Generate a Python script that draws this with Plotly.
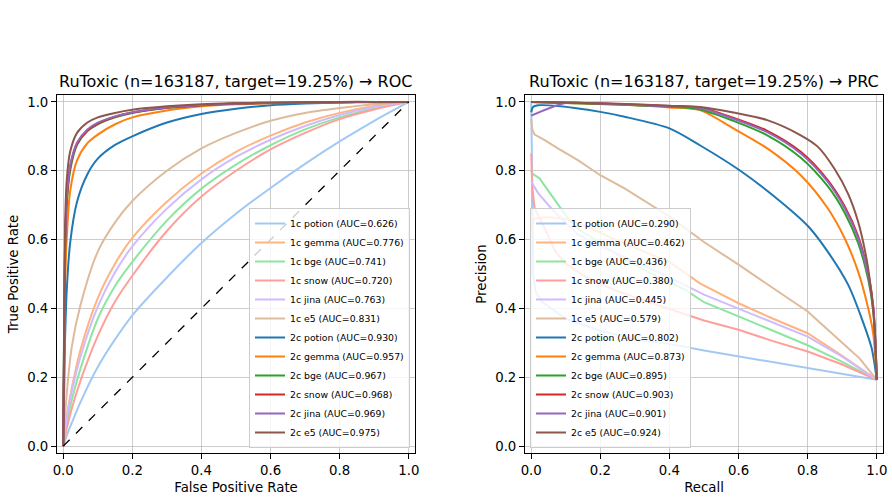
import plotly.graph_objects as go

# ---------------- data ----------------
models = ["potion", "gemma", "bge", "snow", "jina", "e5"]
roc_auc_1c = [0.626, 0.776, 0.741, 0.720, 0.763, 0.831]
roc_auc_2c = [0.930, 0.957, 0.967, 0.968, 0.969, 0.975]
prc_auc_1c = [0.290, 0.462, 0.436, 0.380, 0.445, 0.579]
prc_auc_2c = [0.802, 0.873, 0.895, 0.903, 0.901, 0.924]

# ROC curves, 1-class models
roc_fpr_1c = [0, 0.01, 0.025, 0.05, 0.1, 0.15, 0.2, 0.3, 0.4, 0.5, 0.6, 0.7, 0.8, 0.9, 1.0]
tpr_1c_potion = [0, 0.03, 0.068, 0.128, 0.23, 0.31, 0.38, 0.49, 0.59, 0.675, 0.75, 0.82, 0.885, 0.945, 1.0]
tpr_1c_gemma = [0, 0.085, 0.17, 0.28, 0.43, 0.53, 0.605, 0.71, 0.792, 0.855, 0.902, 0.94, 0.968, 0.988, 1.0]
tpr_1c_bge = [0, 0.065, 0.135, 0.225, 0.37, 0.465, 0.535, 0.655, 0.748, 0.818, 0.874, 0.92, 0.955, 0.981, 1.0]
tpr_1c_snow = [0, 0.05, 0.11, 0.19, 0.32, 0.42, 0.495, 0.625, 0.725, 0.80, 0.862, 0.91, 0.95, 0.978, 1.0]
tpr_1c_jina = [0, 0.08, 0.16, 0.26, 0.405, 0.505, 0.58, 0.69, 0.775, 0.84, 0.89, 0.93, 0.962, 0.985, 1.0]
tpr_1c_e5 = [0, 0.15, 0.29, 0.41, 0.565, 0.65, 0.712, 0.80, 0.865, 0.91, 0.945, 0.968, 0.982, 0.993, 1.0]

# ROC curves, 2-class models
roc_fpr_2c = [0, 0.005, 0.01, 0.02, 0.04, 0.07, 0.1, 0.15, 0.2, 0.3, 0.4, 0.5, 0.6, 0.7, 0.8, 0.9, 1.0]
tpr_2c_potion = [0, 0.30, 0.45, 0.59, 0.71, 0.79, 0.835, 0.875, 0.90, 0.94, 0.965, 0.98, 0.99, 0.995, 0.998, 0.999, 1.0]
tpr_2c_gemma = [0, 0.45, 0.60, 0.74, 0.83, 0.88, 0.905, 0.935, 0.955, 0.975, 0.987, 0.993, 0.996, 0.998, 0.999, 1.0, 1.0]
tpr_2c_bge = [0, 0.55, 0.70, 0.80, 0.875, 0.915, 0.935, 0.955, 0.968, 0.982, 0.99, 0.995, 0.997, 0.998, 0.999, 1.0, 1.0]
tpr_2c_snow = [0, 0.56, 0.71, 0.81, 0.878, 0.917, 0.937, 0.957, 0.969, 0.983, 0.99, 0.995, 0.997, 0.998, 0.999, 1.0, 1.0]
tpr_2c_jina = [0, 0.57, 0.72, 0.815, 0.882, 0.92, 0.94, 0.958, 0.97, 0.984, 0.991, 0.995, 0.997, 0.998, 0.999, 1.0, 1.0]
tpr_2c_e5 = [0, 0.62, 0.77, 0.855, 0.91, 0.94, 0.955, 0.968, 0.977, 0.987, 0.993, 0.996, 0.998, 0.999, 1.0, 1.0, 1.0]
chance_line = [0, 1]

# PR curves
rec_1c_potion = [0, 0.003, 0.006, 0.012, 0.03, 0.1, 0.2, 0.3, 0.4, 0.5, 0.6, 0.7, 0.8, 0.9, 1.0]
prec_1c_potion = [1.0, 0.65, 0.50, 0.45, 0.42, 0.37, 0.335, 0.31, 0.297, 0.278, 0.261, 0.245, 0.227, 0.21, 0.1925]
rec_1c_gemma = [0, 0.003, 0.01, 0.05, 0.1, 0.16, 0.256, 0.4, 0.488, 0.6, 0.7, 0.8, 0.9, 1.0]
prec_1c_gemma = [0.62, 0.64, 0.662, 0.665, 0.66, 0.638, 0.594, 0.535, 0.473, 0.415, 0.37, 0.328, 0.262, 0.1925]
rec_1c_bge = [0, 0.005, 0.024, 0.058, 0.106, 0.14, 0.2, 0.256, 0.35, 0.444, 0.5, 0.6, 0.7, 0.8, 0.9, 1.0]
prec_1c_bge = [0.80, 0.79, 0.778, 0.73, 0.662, 0.628, 0.59, 0.551, 0.50, 0.455, 0.418, 0.377, 0.335, 0.293, 0.245, 0.1925]
rec_1c_snow = [0, 0.003, 0.01, 0.04, 0.07, 0.1, 0.16, 0.25, 0.35, 0.5, 0.6, 0.7, 0.8, 0.9, 1.0]
prec_1c_snow = [0.85, 0.75, 0.69, 0.63, 0.565, 0.53, 0.49, 0.45, 0.415, 0.365, 0.338, 0.305, 0.275, 0.237, 0.1925]
rec_1c_jina = [0, 0.005, 0.02, 0.062, 0.135, 0.2, 0.27, 0.4, 0.5, 0.6, 0.7, 0.8, 0.9, 1.0]
prec_1c_jina = [0.77, 0.76, 0.735, 0.686, 0.615, 0.58, 0.55, 0.49, 0.44, 0.40, 0.36, 0.318, 0.26, 0.1925]
rec_1c_e5 = [0, 0.003, 0.01, 0.039, 0.077, 0.135, 0.2, 0.27, 0.4, 0.5, 0.6, 0.7, 0.8, 0.9, 0.95, 1.0]
prec_1c_e5 = [0.95, 0.92, 0.905, 0.889, 0.865, 0.831, 0.787, 0.749, 0.667, 0.593, 0.527, 0.46, 0.391, 0.30, 0.255, 0.1925]
rec_2c_potion = [0, 0.005, 0.02, 0.077, 0.2, 0.27, 0.4, 0.488, 0.602, 0.722, 0.802, 0.858, 0.917, 0.956, 0.985, 1.0]
prec_2c_potion = [0.97, 0.985, 0.99, 0.988, 0.971, 0.957, 0.923, 0.874, 0.802, 0.71, 0.638, 0.565, 0.469, 0.372, 0.285, 0.1925]
rec_2c_gemma = [0, 0.1, 0.2, 0.3, 0.4, 0.488, 0.585, 0.683, 0.78, 0.858, 0.907, 0.946, 0.975, 0.99, 1.0]
prec_2c_gemma = [1.0, 0.997, 0.994, 0.99, 0.984, 0.976, 0.923, 0.865, 0.787, 0.691, 0.604, 0.507, 0.401, 0.324, 0.1925]
rec_2c_bge = [0, 0.1, 0.2, 0.3, 0.4, 0.488, 0.585, 0.683, 0.78, 0.858, 0.907, 0.946, 0.975, 0.99, 1.0]
prec_2c_bge = [1.0, 0.997, 0.994, 0.99, 0.986, 0.978, 0.945, 0.903, 0.838, 0.755, 0.678, 0.59, 0.485, 0.39, 0.1925]
rec_2c_snow = [0, 0.1, 0.2, 0.3, 0.4, 0.488, 0.585, 0.683, 0.78, 0.858, 0.907, 0.946, 0.975, 0.99, 1.0]
prec_2c_snow = [1.0, 0.998, 0.995, 0.992, 0.988, 0.984, 0.954, 0.916, 0.855, 0.773, 0.697, 0.61, 0.503, 0.405, 0.1925]
rec_2c_jina = [0, 0.1, 0.2, 0.3, 0.4, 0.488, 0.585, 0.683, 0.78, 0.858, 0.907, 0.946, 0.975, 0.99, 1.0]
prec_2c_jina = [0.96, 0.997, 0.995, 0.991, 0.987, 0.982, 0.951, 0.912, 0.85, 0.768, 0.691, 0.604, 0.498, 0.401, 0.1925]
rec_2c_e5 = [0, 0.1, 0.2, 0.3, 0.4, 0.488, 0.585, 0.683, 0.78, 0.829, 0.878, 0.917, 0.946, 0.97, 0.985, 0.995, 1.0]
prec_2c_e5 = [1.0, 0.998, 0.996, 0.993, 0.989, 0.985, 0.969, 0.947, 0.903, 0.870, 0.805, 0.733, 0.652, 0.546, 0.44, 0.324, 0.1925]

colors_1c = ["#a1c9f4", "#ffb482", "#8de5a1", "#ff9f9b", "#d0bbff", "#debb9b"]
colors_2c = ["#1f77b4", "#ff7f0e", "#2ca02c", "#d62728", "#9467bd", "#8c564b"]

roc_1c = [tpr_1c_potion, tpr_1c_gemma, tpr_1c_bge, tpr_1c_snow, tpr_1c_jina, tpr_1c_e5]
roc_2c = [tpr_2c_potion, tpr_2c_gemma, tpr_2c_bge, tpr_2c_snow, tpr_2c_jina, tpr_2c_e5]
pr_1c = [(rec_1c_potion, prec_1c_potion), (rec_1c_gemma, prec_1c_gemma), (rec_1c_bge, prec_1c_bge),
         (rec_1c_snow, prec_1c_snow), (rec_1c_jina, prec_1c_jina), (rec_1c_e5, prec_1c_e5)]
pr_2c = [(rec_2c_potion, prec_2c_potion), (rec_2c_gemma, prec_2c_gemma), (rec_2c_bge, prec_2c_bge),
         (rec_2c_snow, prec_2c_snow), (rec_2c_jina, prec_2c_jina), (rec_2c_e5, prec_2c_e5)]

title_roc = "RuToxic (n=163187, target=19.25%) → ROC"
title_prc = "RuToxic (n=163187, target=19.25%) → PRC"

# ---------------- figure ----------------
W, H = 892, 498
FONT = "DejaVu Sans"
fig = go.Figure()

def add_line(x, y, name, color, xa, ya, legend, shape="spline"):
    fig.add_trace(go.Scatter(
        x=x, y=y, mode="lines", name=name, xaxis=xa, yaxis=ya, legend=legend,
        line=dict(color=color, width=2, shape=shape, smoothing=0.8),
        hoverinfo="skip"))

for m, c, t, a in zip(models, colors_1c, roc_1c, roc_auc_1c):
    add_line(roc_fpr_1c, t, f"1c {m} (AUC={a:.3f})", c, "x", "y", "legend", shape="spline")
for m, c, t, a in zip(models, colors_2c, roc_2c, roc_auc_2c):
    add_line(roc_fpr_2c, t, f"2c {m} (AUC={a:.3f})", c, "x", "y", "legend", shape="spline")
fig.add_trace(go.Scatter(x=chance_line, y=chance_line, mode="lines", xaxis="x", yaxis="y",
                         line=dict(color="black", width=1.3, dash="dash"),
                         showlegend=False, hoverinfo="skip"))

for m, c, (r, p), a in zip(models, colors_1c, pr_1c, prc_auc_1c):
    add_line(r, p, f"1c {m} (AUC={a:.3f})", c, "x2", "y2", "legend2", shape="linear")
for m, c, (r, p), a in zip(models, colors_2c, pr_2c, prc_auc_2c):
    add_line(r, p, f"2c {m} (AUC={a:.3f})", c, "x2", "y2", "legend2", shape="spline")

dom_y = [45 / H, 403 / H]
dom_x1 = [57 / W, 415 / W]
dom_x2 = [525 / W, 883 / W]

def axis_style(title, domain, anchor, is_x):
    return dict(
        domain=domain, anchor=anchor,
        range=[-0.018, 1.018] if is_x else [-0.02, 1.02],
        tickmode="array", tickvals=[0, 0.2, 0.4, 0.6, 0.8, 1.0],
        ticktext=["0.0", "0.2", "0.4", "0.6", "0.8", "1.0"],
        ticks="outside", ticklen=5, tickwidth=1, tickcolor="black",
        showline=True, linecolor="black", linewidth=1, mirror=True,
        showgrid=True, gridcolor="rgba(176,176,176,0.65)", gridwidth=1,
        zeroline=False, tickfont=dict(size=13.3, color="black", family=FONT),
        title=dict(text=title, font=dict(size=13.3, color="black", family=FONT),
                   standoff=5),
        automargin=False,
    )

legend_common = dict(
    font=dict(size=9.3, color="black", family=FONT),
    bgcolor="rgba(255,255,255,0.8)", bordercolor="#cccccc", borderwidth=1,
    yanchor="bottom", y=50 / H, traceorder="normal", tracegroupgap=0,
)

fig.update_layout(
    width=W, height=H,
    margin=dict(l=0, r=0, t=0, b=0),
    paper_bgcolor="white", plot_bgcolor="white",
    font=dict(family=FONT, color="black"),
    xaxis=axis_style("False Positive Rate", dom_x1, "y", True),
    yaxis=axis_style("True Positive Rate", dom_y, "x", False),
    xaxis2=axis_style("Recall", dom_x2, "y2", True),
    yaxis2=axis_style("Precision", dom_y, "x2", False),
    legend=dict(legend_common, x=410 / W, xanchor="right"),
    legend2=dict(legend_common, x=530 / W, xanchor="left"),
    annotations=[
        dict(text=title_roc, x=(dom_x1[0] + dom_x1[1]) / 2, y=(H - 81) / H, xref="paper", yref="paper",
             showarrow=False, xanchor="center", yanchor="middle",
             font=dict(size=16, color="black", family=FONT)),
        dict(text=title_prc, x=(dom_x2[0] + dom_x2[1]) / 2, y=(H - 81) / H, xref="paper", yref="paper",
             showarrow=False, xanchor="center", yanchor="middle",
             font=dict(size=16, color="black", family=FONT)),
    ],
)

fig.write_html("out.html")
